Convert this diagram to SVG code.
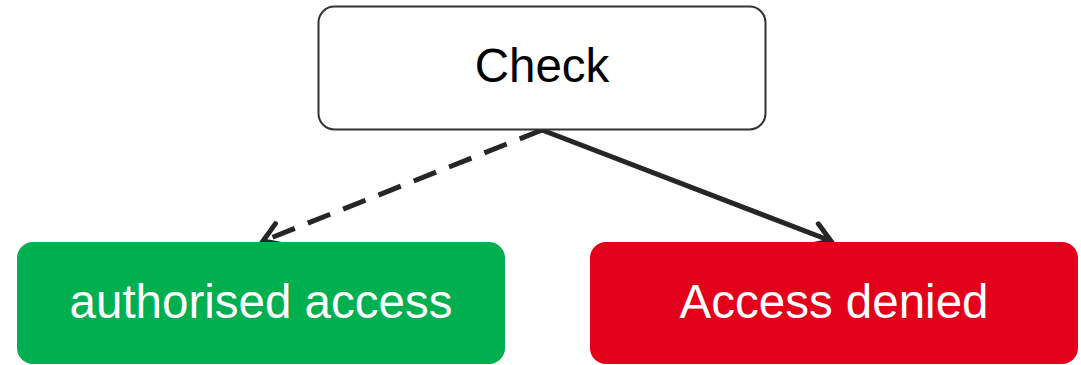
<svg xmlns="http://www.w3.org/2000/svg" width="1081" height="365" viewBox="0 0 1081 365">
<style>
.lbl{font-family:"Liberation Sans",Arial,sans-serif;font-size:47.5px;text-anchor:middle}
.edge{fill:none;stroke:#262626;stroke-width:5}
</style>
<defs>
<marker id="arr" viewBox="-26 -15 30 30" refX="0" refY="0" markerWidth="30" markerHeight="30" markerUnits="userSpaceOnUse" orient="auto">
<path d="M-18,-11.5 L0,0 L-18,11.5" fill="none" stroke="#262626" stroke-width="5" stroke-linecap="round" stroke-linejoin="miter"/>
</marker>
</defs>
<rect width="1081" height="365" fill="#fff"/>
<g id="connectors">
<path class="edge" d="M542,130 L263,241" stroke-dasharray="24,14" marker-end="url(#arr)"/>
<path class="edge" d="M542,130 L831,241" marker-end="url(#arr)"/>
</g>
<g id="check">
<rect x="318.5" y="6.5" width="447" height="123" rx="16" fill="#fff" stroke="#333" stroke-width="2"/>
<text class="lbl" x="542" y="82" fill="#000">Check</text>
</g>
<g id="authorised">
<rect x="17" y="242" width="488" height="122" rx="16" fill="#00AF50"/>
<text class="lbl" x="261" y="318" fill="#fff">authorised access</text>
</g>
<g id="denied">
<rect x="590" y="242" width="488" height="122" rx="16" fill="#E2001A"/>
<text class="lbl" x="834" y="318" fill="#fff">Access denied</text>
</g>
</svg>
